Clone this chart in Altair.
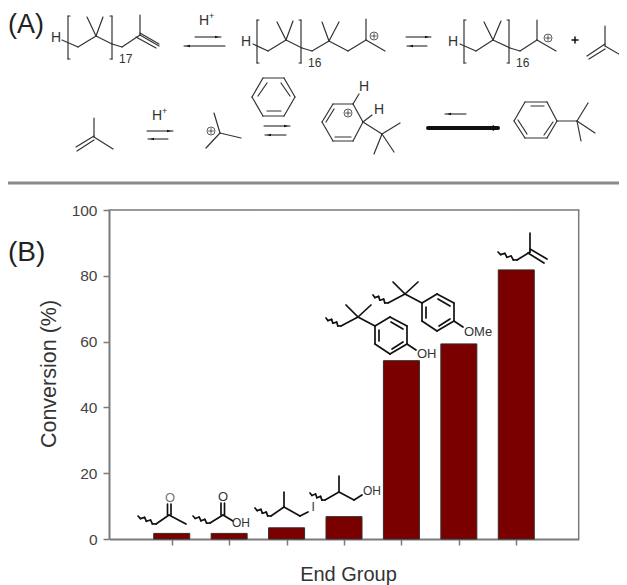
import altair as alt
import pandas as pd

# ---------- chart data ----------
end_groups = ["ketone", "carboxylic acid", "iodide", "alcohol", "phenol", "anisole", "olefin"]
positions = [1, 2, 3, 4, 5, 6, 7]
conversion = [1.7, 1.7, 3.4, 6.8, 54.2, 59.3, 81.8]
y_ticks = [0, 20, 40, 60, 80, 100]

# ---------- diagram drawing helpers (in image pixels) ----------
THIN, THICK = 1.2, 1.7
DARK, BLACK = "#333333", "#111111"
segs, texts, heads, rings = [], [], [], []


def line(pts, w=THIN, c=DARK):
    for (a, b), (d, e) in zip(pts[:-1], pts[1:]):
        segs.append(dict(x=a, y=b, x2=d, y2=e, w=w, c=c))


def label(s, x, y, size=14, c=DARK):
    texts.append(dict(t=s, x=x, y=y, fs=size, c=c))


SMALL_R = "M-0.5,-0.3 L0.5,0 L-0.5,0.3 Z"
SMALL_L = "M0.5,-0.3 L-0.5,0 L0.5,0.3 Z"
BOLD_R = "M-0.5,-1 L0.5,0 L-0.5,1 Z"


def arrow(x0, x1, y, w=1.0):
    line([(x0, y), (x1, y)], w, "#111111")
    d = 1 if x1 > x0 else -1
    if w > 2:
        heads.append(dict(x=x1 - 3.5, y=y, s=BOLD_R, sz=49))
    else:
        heads.append(dict(x=x1 - 4 * d, y=y, s=SMALL_R if d > 0 else SMALL_L, sz=64))


def plus_ring(x, y):
    rings.append(dict(x=x, y=y))
    line([(x - 2.5, y), (x + 2.5, y)], 0.8)
    line([(x, y - 2.5), (x, y + 2.5)], 0.8)


def bracket(xl, xr, top, bot):
    line([(xl + 2, top), (xl, top), (xl, bot), (xl + 2, bot)])
    line([(xr - 2, top), (xr, top), (xr, bot), (xr - 2, bot)])


def wavy(x0, y0, x1, y1, n=6, amp=1.4):
    pts = [(x0, y0)]
    dx, dy = x1 - x0, y1 - y0
    ln = (dx * dx + dy * dy) ** 0.5
    nx, ny = -dy / ln, dx / ln
    for i in range(1, n):
        f = i / n
        s = amp if i % 2 else -amp
        pts.append((x0 + dx * f + nx * s, y0 + dy * f + ny * s))
    pts.append((x1, y1))
    line(pts, THICK, BLACK)


# ---------- scheme (A), first row ----------
label("(A)", 8, 24.5, 27, "#222222")
label("H", 51, 38)
line([(62, 40), (78, 47), (96, 36), (112, 44), (122, 47), (140, 35), (159, 46)])
line([(140, 35), (140, 15)])
line([(140, 33), (159, 44)])
line([(136, 37), (156, 48)])
line([(96, 36), (87, 17)])
line([(96, 36), (103, 17)])
bracket(68, 112, 16, 59)
label("17", 119, 59, 12)
arrow(195, 221, 37)
arrow(225, 184, 46)
label("H", 199, 21)
label("+", 209, 16, 9)

label("H", 241, 42)
line([(253, 44), (268, 51), (286, 40), (302, 48), (312, 51), (329, 41), (348, 51), (366, 40), (385, 51)])
line([(286, 40), (277, 22)])
line([(286, 40), (293, 21)])
line([(329, 41), (322, 22)])
line([(329, 41), (339, 22)])
line([(366, 40), (366, 19)])
bracket(257, 301, 20, 63)
label("16", 308, 63, 12)
plus_ring(374, 36)
arrow(406, 431, 37)
arrow(427, 407, 46)

label("H", 448, 42)
line([(460, 44), (476, 51), (493, 40), (510, 48), (520, 51), (537, 40), (556, 51)])
line([(493, 40), (484, 22)])
line([(493, 40), (501, 21)])
line([(537, 40), (537, 20)])
bracket(464, 509, 20, 63)
label("16", 516, 63, 12)
plus_ring(548, 38)
line([(572, 40), (578, 40)], 1.5, BLACK)
line([(575, 37), (575, 43)], 1.5, BLACK)
line([(605, 46), (605, 26)])
line([(605, 46), (624, 57)])
line([(587, 56), (605, 44)])
line([(589, 59), (605, 49)])

# ---------- scheme (A), second row ----------
line([(94, 137), (94, 118)])
line([(94, 137), (113, 149)])
line([(76, 147), (94, 136)])
line([(77, 151), (94, 140)])
label("H", 152, 116)
label("+", 162, 111, 9)
arrow(147, 173, 131)
arrow(168, 148, 139)
line([(220, 133), (214, 113)])
line([(220, 133), (241, 138)])
line([(220, 133), (206, 148)])
plus_ring(211, 131)
line([(252, 97), (263, 78), (284, 78), (295, 97), (284, 116), (263, 116), (252, 97)])
line([(258, 96), (267, 83)])
line([(281, 83), (290, 96)])
line([(267, 111), (281, 111)])
arrow(264, 290, 126)
arrow(286, 265, 135)

line([(322, 122), (333, 104), (353, 104), (363, 122), (353, 141), (333, 141), (322, 122)])
line([(326, 122), (334, 109)])
line([(335, 137), (351, 137)])
plus_ring(348, 113)
line([(353, 104), (359, 94)])
label("H", 359, 87)
line([(363, 122), (372, 115)])
label("H", 374, 110)
line([(363, 122), (382, 134)])
line([(382, 134), (400, 123)])
line([(382, 134), (374, 154)])
line([(382, 134), (394, 152)])
arrow(466, 445, 114)
arrow(428, 498, 128, 4.0)

line([(514, 121), (525, 102), (547, 102), (557, 121), (547, 138), (525, 138), (514, 121)])
line([(531, 106), (544, 106)])
line([(518, 120), (527, 134)])
line([(544, 135), (553, 122)])
line([(557, 121), (577, 121)])
line([(577, 121), (588, 103)])
line([(577, 121), (595, 133)])
line([(577, 121), (581, 141)])

# divider
line([(8, 183), (625, 183)], 3.0, "#8a8a8a")

# plot frame (top and right)
line([(109, 210), (578.7, 210), (578.7, 539)], 1.5, "#7a7a7a")

label("(B)", 8, 253, 28, "#222222")

# ---------- end-group structures ----------
# ketone
wavy(138, 516, 156, 524)
line([(156, 524), (169, 515), (186, 524)], THICK, BLACK)
line([(167.5, 515), (167.5, 504)], THICK, BLACK)
line([(171, 515), (171, 504)], THICK, BLACK)
label("O", 165, 498, 13, "#777777")
# acid
wavy(193, 516, 210, 523)
line([(210, 523), (223, 515), (233, 521)], THICK, BLACK)
line([(221, 515), (221, 503)], THICK, BLACK)
line([(224.5, 515), (224.5, 503)], THICK, BLACK)
label("O", 218, 497, 13)
label("OH", 232, 523, 12)
# iodide
wavy(255, 508, 271, 516)
line([(271, 516), (284, 507), (300, 516), (308, 512)], THICK, BLACK)
line([(284, 507), (284, 492)], THICK, BLACK)
label("I", 311.5, 507, 12)
# alcohol
wavy(310, 493, 325, 500)
line([(325, 500), (339, 492), (354, 500), (362, 495)], THICK, BLACK)
line([(339, 492), (339, 476)], THICK, BLACK)
label("OH", 363, 491, 12)


def aryl(dx, dy, tail, tx, ty):
    wavy(373 + dx, 295 + dy, 388 + dx, 303 + dy)
    line([(388 + dx, 303 + dy), (405 + dx, 294 + dy), (422 + dx, 303 + dy)], THICK, BLACK)
    line([(405 + dx, 294 + dy), (393 + dx, 282 + dy)], THICK, BLACK)
    line([(405 + dx, 294 + dy), (418 + dx, 282 + dy)], THICK, BLACK)
    ring = [(437, 294), (454, 303), (454, 321), (437, 331), (422, 321), (422, 303), (437, 294)]
    line([(a + dx, b + dy) for a, b in ring], THICK, BLACK)
    line([(426 + dx, 307 + dy), (426 + dx, 318 + dy)], THICK, BLACK)
    line([(438 + dx, 299 + dy), (450 + dx, 306 + dy)], THICK, BLACK)
    line([(439 + dx, 326 + dy), (450 + dx, 319 + dy)], THICK, BLACK)
    line([(454 + dx, 321 + dy), (463 + dx, 327 + dy)], THICK, BLACK)
    label(tail, tx, ty, 13)


aryl(0, 0, "OMe", 464, 332)
aryl(-47, 23, "OH", 417, 354)
# olefin
wavy(498, 252, 517, 260)
line([(517, 260), (530, 252)], THICK, BLACK)
line([(530, 252), (530, 233)], THICK, BLACK)
line([(530, 249), (547, 259)], THICK, BLACK)
line([(528, 253), (544, 263)], THICK, BLACK)

# ---------- layers ----------
px_x = alt.Scale(domain=[0, 627], range=[-8, 619], nice=False, zero=False)
px_y = alt.Scale(domain=[0, 585], range=[-8, 577], nice=False, zero=False)

bars = pd.DataFrame({"group": end_groups, "pos": positions, "conv": conversion})
x_scale = alt.Scale(domain=[0, 8], range=[101.3, 570.7], nice=False, zero=False)
y_scale = alt.Scale(domain=[0, 100], range=[531, 202], nice=False, zero=False)
AXC = "#7a7a7a"

bar_layer = alt.Chart(bars).mark_bar(
    size=36, orient="vertical", color="#7a0000", stroke="#3a2a2a", strokeWidth=1
).encode(
    x=alt.X("pos:Q", scale=x_scale, axis=alt.Axis(
        values=positions, labels=False, grid=False, offset=-46, tickSize=6, tickWidth=1.5,
        domainWidth=2, domainColor=AXC, tickColor=AXC, title="End Group",
        titleFont="Liberation Sans", titleFontSize=20, titleFontWeight="normal",
        titleColor="#333333", titleX=340, titleY=35, titleAlign="center", titleBaseline="middle")),
    y=alt.Y("conv:Q", scale=y_scale, axis=alt.Axis(
        values=y_ticks, grid=False, offset=-101, tickSize=6, tickWidth=1.5,
        domainWidth=2, domainColor=AXC, tickColor=AXC, labelFont="Liberation Sans",
        labelFontSize=15.5, labelColor="#444444", labelPadding=6, title="Conversion (%)",
        titleFont="Liberation Sans", titleFontSize=21.5, titleFontWeight="normal",
        titleColor="#333333", titleX=-60, titleY=365.5, titleAlign="center",
        titleBaseline="middle", titleAngle=270)),
)

seg_layer = alt.Chart(pd.DataFrame(segs)).mark_rule(strokeCap="round").encode(
    x=alt.X("x:Q", scale=px_x, axis=None),
    x2="x2:Q",
    y=alt.Y("y:Q", scale=px_y, axis=None),
    y2="y2:Q",
    strokeWidth=alt.StrokeWidth("w:Q", scale=None, legend=None),
    color=alt.Color("c:N", scale=None, legend=None),
)

head_layer = alt.Chart(pd.DataFrame(heads)).mark_point(filled=True, opacity=1, color="#111111").encode(
    x=alt.X("x:Q", scale=px_x, axis=None),
    y=alt.Y("y:Q", scale=px_y, axis=None),
    shape=alt.Shape("s:N", scale=None, legend=None),
    size=alt.Size("sz:Q", scale=None, legend=None),
)

ring_layer = alt.Chart(pd.DataFrame(rings)).mark_point(
    shape="circle", filled=False, size=64, color=DARK, strokeWidth=0.8, opacity=1
).encode(
    x=alt.X("x:Q", scale=px_x, axis=None),
    y=alt.Y("y:Q", scale=px_y, axis=None),
)

text_layer = alt.Chart(pd.DataFrame(texts)).mark_text(
    font="Liberation Sans", align="left", baseline="middle"
).encode(
    x=alt.X("x:Q", scale=px_x, axis=None),
    y=alt.Y("y:Q", scale=px_y, axis=None),
    text="t:N",
    size=alt.Size("fs:Q", scale=None, legend=None),
    color=alt.Color("c:N", scale=None, legend=None),
)

chart = alt.layer(bar_layer, seg_layer, head_layer, ring_layer, text_layer).resolve_scale(
    x="independent", y="independent", color="independent", size="independent", shape="independent"
).properties(
    width=611, height=577, padding=0, background="white",
    autosize=alt.AutoSizeParams(type="none", contains="padding"),
).configure_view(stroke=None)

chart.save("out.html", embed_options={"renderer": "svg", "actions": False})
